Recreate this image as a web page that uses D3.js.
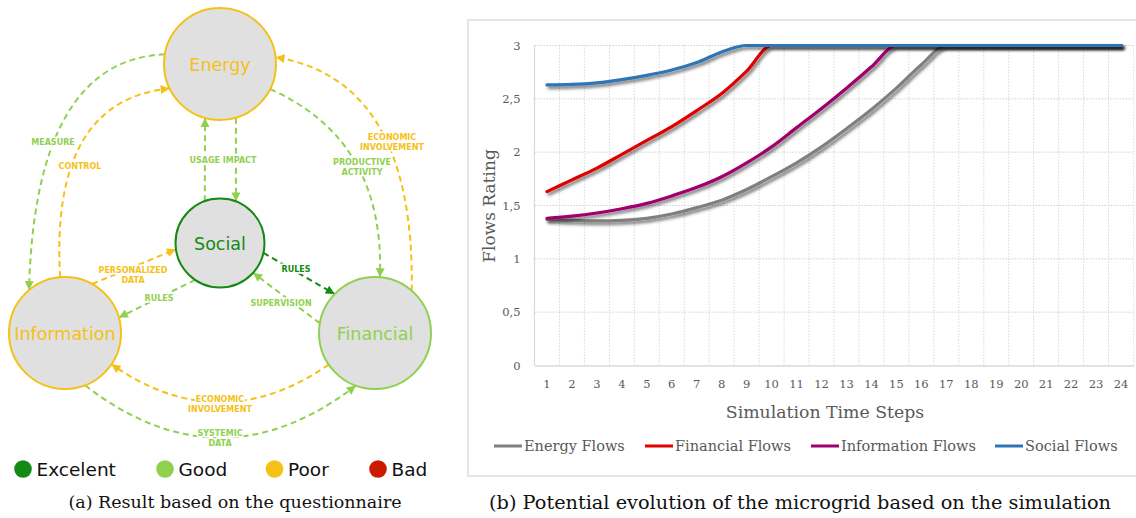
<!DOCTYPE html>
<html><head><meta charset="utf-8">
<script src="https://cdn.jsdelivr.net/npm/d3@7"></script>
<style>body{margin:0;background:#fff}svg{display:block}</style>
</head><body><svg id="c" width="1136" height="518"></svg>
<script>
// ---------- DATA ----------
const steps = [1,2,3,4,5,6,7,8,9,10,11,12,13,14,15,16,17,18,19,20,21,22,23,24];
const energyFlows      = [1.37,1.36,1.355,1.36,1.38,1.42,1.48,1.55,1.65,1.77,1.90,2.05,2.22,2.40,2.60,2.82,3,3,3,3,3,3,3,3];
const financialFlows   = [1.63,1.74,1.85,1.98,2.11,2.24,2.39,2.55,2.76,3,3,3,3,3,3,3,3,3,3,3,3,3,3,3];
const informationFlows = [1.38,1.40,1.43,1.47,1.52,1.59,1.67,1.77,1.90,2.05,2.23,2.41,2.60,2.80,3,3,3,3,3,3,3,3,3,3];
const socialFlows      = [2.63,2.635,2.65,2.68,2.72,2.77,2.84,2.94,3,3,3,3,3,3,3,3,3,3,3,3,3,3,3,3];
const seriesNames = ["Energy Flows","Financial Flows","Information Flows","Social Flows"];
const yTicks = [0,0.5,1,1.5,2,2.5,3];
const yTickLabels = ["0","0,5","1","1,5","2","2,5","3"];

const ratingNames = ["Excelent","Good","Poor","Bad"];
const nodeNames = ["Energy","Social","Information","Financial"];
const nodeRatings = ["Poor","Excelent","Poor","Good"];
const flowFrom    = ["Energy","Information","Social","Energy","Energy","Financial","Social","Financial","Information","Social","Financial","Information"];
const flowTo      = ["Information","Energy","Energy","Social","Financial","Energy","Financial","Social","Social","Information","Information","Financial"];
const flowLabels  = [["MEASURE"],["CONTROL"],["USAGE IMPACT"],[],["PRODUCTIVE","ACTIVITY"],["ECONOMIC","INVOLVEMENT"],["RULES"],["SUPERVISION"],["PERSONALIZED","DATA"],["RULES"],["ECONOMIC","INVOLVEMENT"],["SYSTEMIC","DATA"]];
const flowRatings = ["Good","Poor","Good","Good","Good","Poor","Excelent","Good","Poor","Good","Poor","Good"];

// ---------- STYLE / LAYOUT ----------
const ratingColor = {Excelent:"#138a13", Good:"#8fd14f", Poor:"#f5c116", Bad:"#cc1a00"};
const seriesColors = ["#7f7f7f","#e00000","#a0006e","#2e75b6"];
const nodeLayout = {Energy:{x:220,y:64,r:56}, Social:{x:220,y:243,r:44.5}, Information:{x:65,y:333,r:56}, Financial:{x:375,y:333,r:56}};
const flowLayout = [
  {a0:-170, a1:-130, c:[35,60],   l:[53,142]},
  {a0:-95,  a1:154,  c:[50,100],  l:[80,166]},
  {a0:-110, a1:105.5, c:null,     l:[223,160]},
  {a0:73.5, a1:-69,  c:null,      l:null},
  {a0:26.6, a1:-85,  c:[385,140], l:[362,162]},
  {a0:-49,  a1:-7,   c:[415,80],  l:[392,137]},
  {a0:12.8, a1:224,  c:null,      l:[296,269]},
  {a0:190,  a1:42,   c:null,      l:[281,303]},
  {a0:-61,  a1:172,  c:null,      l:[133,270]},
  {a0:124,  a1:-16,  c:null,      l:[159,298]},
  {a0:145.7,a1:34,   c:[220,440], l:[220,399]},
  {a0:69,   a1:110,  c:[220,490], l:[220,433]}
];

const svg = d3.select("#c");
const defs = svg.append("defs");
ratingNames.forEach(r => {
  defs.append("marker").attr("id","m"+r).attr("viewBox","0 0 10 10")
    .attr("refX",10).attr("refY",5).attr("markerWidth",11).attr("markerHeight",9)
    .attr("markerUnits","userSpaceOnUse").attr("orient","auto")
    .append("path").attr("d","M0,0L10,5L0,10Z").attr("fill",ratingColor[r]);
});
const f = defs.append("filter").attr("id","shadow").attr("x","-5%").attr("y","-20%").attr("width","110%").attr("height","140%");
f.append("feDropShadow").attr("dx",2).attr("dy",2.5).attr("stdDeviation",1.6).attr("flood-color","#000").attr("flood-opacity",0.55);

// ---------- LEFT DIAGRAM ----------
const gL = svg.append("g");
const rad = d => d*Math.PI/180;
const pt = (n,a) => { const L = nodeLayout[n]; return [L.x + L.r*Math.cos(rad(a)), L.y + L.r*Math.sin(rad(a))]; };
flowFrom.forEach((src,i) => {
  const lay = flowLayout[i];
  const p0 = pt(src, lay.a0), p1 = pt(flowTo[i], lay.a1);
  const p = d3.path();
  p.moveTo(p0[0],p0[1]);
  if (lay.c) p.quadraticCurveTo(lay.c[0],lay.c[1],p1[0],p1[1]); else p.lineTo(p1[0],p1[1]);
  gL.append("path").attr("d",p.toString()).attr("fill","none")
    .attr("stroke",ratingColor[flowRatings[i]]).attr("stroke-width",2)
    .attr("stroke-dasharray","6,4").attr("marker-end","url(#m"+flowRatings[i]+")");
});
flowFrom.forEach((src,i) => {
  const lay = flowLayout[i];
  if (!lay.l) return;
  const t = gL.append("text").attr("x",lay.l[0]).attr("y",lay.l[1])
    .attr("text-anchor","middle").attr("font-family","DejaVu Sans").attr("font-weight","bold")
    .attr("font-size",8).attr("fill",ratingColor[flowRatings[i]])
    .attr("stroke","#fff").attr("stroke-width",3).attr("paint-order","stroke")
    .attr("dominant-baseline","central");
  flowLabels[i].forEach((s,k) => t.append("tspan").attr("x",lay.l[0]).attr("dy",k===0?0:10).text(s));
});
nodeNames.forEach((n,i) => {
  const L = nodeLayout[n];
  gL.append("circle").attr("cx",L.x).attr("cy",L.y).attr("r",L.r)
    .attr("fill","#e0e0e0").attr("stroke",ratingColor[nodeRatings[i]]).attr("stroke-width",2);
  gL.append("text").attr("x",L.x).attr("y",L.y+1).attr("text-anchor","middle").attr("dominant-baseline","central")
    .attr("font-family","DejaVu Sans").attr("font-size",17.5).attr("fill",ratingColor[nodeRatings[i]]).text(n);
});
const legX = [23,165,274.5,378];
ratingNames.forEach((r,i) => {
  gL.append("circle").attr("cx",legX[i]).attr("cy",469).attr("r",8.8).attr("fill",ratingColor[r]);
  gL.append("text").attr("x",legX[i]+13.5).attr("y",469).attr("dominant-baseline","central")
    .attr("font-family","DejaVu Sans").attr("font-size",18.5).attr("fill","#111").text(r);
});
svg.append("text").attr("x",235).attr("y",502).attr("text-anchor","middle").attr("dominant-baseline","central")
  .attr("font-family","DejaVu Serif").attr("font-size",17.5).attr("fill","#111").text("(a)  Result based on the questionnaire");

// ---------- RIGHT CHART ----------
svg.append("rect").attr("x",468).attr("y",20).attr("width",700).attr("height",456)
  .attr("fill","none").attr("stroke","#d9d9d9").attr("stroke-width",1.3);
const x = d3.scaleBand().domain(steps).range([534.5,1133.5]);
const y = d3.scaleLinear().domain([0,3]).range([365.5,45.5]);
const gC = svg.append("g");
gC.selectAll("line.v").data(steps.slice(1)).join("line")
  .attr("x1",d=>x(d)).attr("x2",d=>x(d)).attr("y1",y(3)).attr("y2",y(0))
  .attr("stroke","#d9d9d9").attr("stroke-width",1).attr("stroke-dasharray","1.5,1.5");
gC.append("line").attr("x1",x.range()[1]).attr("x2",x.range()[1]).attr("y1",y(3)).attr("y2",y(0))
  .attr("stroke","#e3e3e3").attr("stroke-width",1).attr("stroke-dasharray","1.5,1.5");
gC.selectAll("line.h").data(yTicks.slice(1)).join("line")
  .attr("x1",x.range()[0]).attr("x2",x.range()[1]).attr("y1",d=>y(d)).attr("y2",d=>y(d))
  .attr("stroke","#d0d0d0").attr("stroke-width",1).attr("stroke-dasharray","1.5,1.5");
gC.append("line").attr("x1",x.range()[0]).attr("x2",x.range()[0]).attr("y1",y(3)).attr("y2",y(0))
  .attr("stroke","#d9d9d9").attr("stroke-width",1.2);

const yAxis = d3.axisLeft(y).tickValues(yTicks).tickFormat((d,i)=>yTickLabels[i]).tickSize(0).tickPadding(14);
const ya = gC.append("g").attr("transform",`translate(${x.range()[0]},0)`).call(yAxis);
ya.select(".domain").remove();
ya.selectAll("text").attr("font-family","DejaVu Serif").attr("font-size",11.5).attr("fill","#595959");
const xAxis = d3.axisBottom(x).tickSize(0).tickPadding(14);
const xa = gC.append("g").attr("transform",`translate(0,${y(0)})`).call(xAxis);
xa.select(".domain").attr("stroke","#d9d9d9").attr("stroke-width",1.5);
xa.selectAll("text").attr("font-family","DejaVu Serif").attr("font-size",11.5).attr("fill","#595959");

const series = [energyFlows, financialFlows, informationFlows, socialFlows];
const line = d3.line().x((d,i)=>x(steps[i])+x.bandwidth()/2).y(d=>y(d)).curve(d3.curveMonotoneX);
series.forEach((s,k) => {
  gC.append("path").attr("d",line(s)).attr("fill","none").attr("stroke",seriesColors[k])
    .attr("stroke-width",3.2).attr("stroke-linecap","round").attr("filter","url(#shadow)");
});

svg.append("text").attr("transform","translate(489,206) rotate(-90)").attr("text-anchor","middle").attr("dominant-baseline","central")
  .attr("font-family","DejaVu Serif").attr("font-size",17).attr("fill","#595959").text("Flows Rating");
svg.append("text").attr("x",825).attr("y",412).attr("text-anchor","middle").attr("dominant-baseline","central")
  .attr("font-family","DejaVu Serif").attr("font-size",17.3).attr("fill","#595959").text("Simulation Time Steps");

const legSX = [494,645,811,995];
seriesNames.forEach((n,k) => {
  svg.append("line").attr("x1",legSX[k]).attr("x2",legSX[k]+28).attr("y1",446).attr("y2",446)
    .attr("stroke",seriesColors[k]).attr("stroke-width",3);
  svg.append("text").attr("x",legSX[k]+30).attr("y",446).attr("dominant-baseline","central")
    .attr("font-family","DejaVu Serif").attr("font-size",14.5).attr("fill","#595959").text(n);
});
svg.append("text").attr("x",800).attr("y",502).attr("text-anchor","middle").attr("dominant-baseline","central")
  .attr("font-family","DejaVu Serif").attr("font-size",19.3).attr("fill","#111").text("(b)  Potential evolution of the microgrid based on the simulation");
</script></body></html>
